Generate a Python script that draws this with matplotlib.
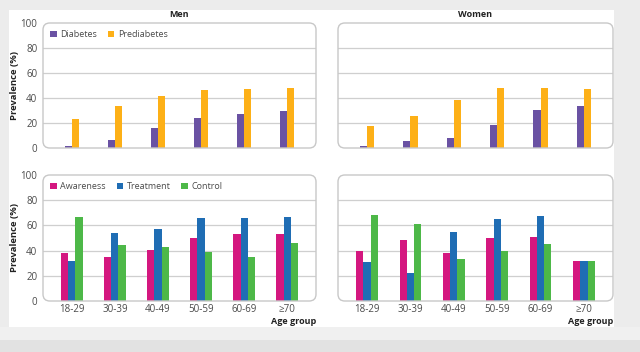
import matplotlib.pyplot as plt
import numpy as np
from matplotlib.patches import FancyBboxPatch, Rectangle

plt.rcParams['font.family'] = ['Open Sans', 'DejaVu Sans']

# Data
age_groups = ['18-29', '30-39', '40-49', '50-59', '60-69', '≥70']

men_diabetes = [1.9, 6.7, 16.0, 24.0, 27.5, 29.6]
men_prediabetes = [23.5, 33.9, 41.3, 46.4, 47.5, 48.0]
women_diabetes = [1.6, 5.6, 8.3, 18.4, 30.4, 33.6]
women_prediabetes = [17.3, 25.6, 38.4, 47.7, 48.3, 47.5]

men_awareness = [37.8, 35.2, 40.2, 50.3, 52.9, 53.2]
men_treatment = [31.5, 54.0, 57.4, 65.6, 65.6, 66.7]
men_control = [66.9, 44.2, 42.6, 38.9, 34.9, 46.3]
women_awareness = [39.4, 48.7, 38.1, 50.3, 51.1, 31.7]
women_treatment = [30.7, 22.2, 54.8, 65.3, 67.2, 31.7]
women_control = [68.5, 60.8, 33.3, 39.9, 45.0, 31.7]

c_diab = '#6a52a3'
c_pre = '#fdb017'
c_aw = '#d4177f'
c_tr = '#1f6db4'
c_co = '#4db848'
grid_c = '#cfcfcf'
text_c = '#4a4a4a'

W, H = 640, 352
fig = plt.figure(figsize=(W / 100, H / 100), dpi=100, facecolor='#ececec')

# white panel and bottom strip
fig.patches.append(Rectangle((9 / W, 1 - 327 / H), 605 / W, 317 / H,
                             transform=fig.transFigure, facecolor='white',
                             edgecolor='none', zorder=-10))
fig.patches.append(Rectangle((0, 0), 1, 12 / H, transform=fig.transFigure,
                             facecolor='#e2e2e2', edgecolor='none', zorder=-10))
fig.patches.append(Rectangle((0, 12 / H), 1, 13 / H, transform=fig.transFigure,
                             facecolor='#f0f0f0', edgecolor='none', zorder=-10))


def px_axes(x0, y0, x1, y1):
    return fig.add_axes([x0 / W, 1 - y1 / H, (x1 - x0) / W, (y1 - y0) / H])


ax_tl = px_axes(43, 23, 316, 148)
ax_tr = px_axes(338, 23, 613, 148)
ax_bl = px_axes(43, 175, 316, 301)
ax_br = px_axes(338, 175, 613, 301)

x = np.arange(len(age_groups))
bw = 0.165


def style(ax, show_y, show_x):
    ax.set_facecolor('none')
    ax.set_xlim(-0.67, 5.67)
    ax.set_ylim(0, 100)
    ax.set_yticks([0, 20, 40, 60, 80, 100])
    for s in ax.spines.values():
        s.set_visible(False)
    for yv in [20, 40, 60, 80]:
        ax.axhline(yv, color=grid_c, lw=0.9, zorder=1)
    box = FancyBboxPatch((0, 0), 1, 1, boxstyle='round,pad=0,rounding_size=0.025',
                         transform=ax.transAxes, facecolor='none',
                         edgecolor='#c8c8c8', lw=1.0, zorder=4, clip_on=False,
                         mutation_aspect=273 / 125)
    ax.add_patch(box)
    ax.tick_params(length=0, labelsize=7, colors=text_c, pad=4)
    if show_y:
        ax.set_ylabel('Prevalence (%)', fontsize=6.8, fontweight='bold',
                      color='#222222', labelpad=1)
    else:
        ax.set_yticklabels([])
    if show_x:
        ax.set_xticks(x)
        ax.set_xticklabels(age_groups)
        ax.tick_params(axis='x', pad=2)
        ax.text(1.0, -0.165, 'Age group', transform=ax.transAxes, ha='right',
                va='center', fontsize=6.5, fontweight='bold', color='#222222')
    else:
        ax.set_xticks([])


# top row
for ax, d, p, title in [(ax_tl, men_diabetes, men_prediabetes, 'Men'),
                        (ax_tr, women_diabetes, women_prediabetes, 'Women')]:
    ax.bar(x - bw / 2, d, bw, color=c_diab, zorder=2, label='Diabetes')
    ax.bar(x + bw / 2, p, bw, color=c_pre, zorder=2, label='Prediabetes')
    ax.set_title(title, fontsize=6.5, fontweight='bold', color='#222222', pad=4)

# bottom row
for ax, a, t, c in [(ax_bl, men_awareness, men_treatment, men_control),
                    (ax_br, women_awareness, women_treatment, women_control)]:
    ax.bar(x - bw, a, bw, color=c_aw, zorder=2, label='Awareness')
    ax.bar(x, t, bw, color=c_tr, zorder=2, label='Treatment')
    ax.bar(x + bw, c, bw, color=c_co, zorder=2, label='Control')

style(ax_tl, True, False)
style(ax_tr, False, False)
style(ax_bl, True, True)
style(ax_br, False, True)

for ax, n in [(ax_tl, 2), (ax_bl, 3)]:
    ax.legend(loc='upper left', ncol=n, frameon=False, fontsize=6.5,
              handlelength=0.7, handleheight=0.7, handletextpad=0.4,
              columnspacing=1.2, borderaxespad=0.4, labelcolor=text_c)

fig.savefig('out.png', dpi=100, facecolor=fig.get_facecolor())
